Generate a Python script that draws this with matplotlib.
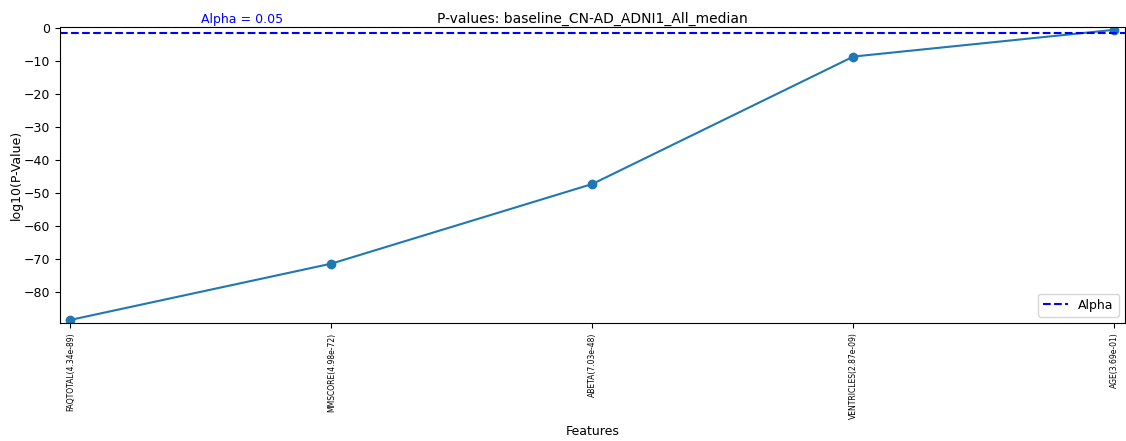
import numpy as np
import matplotlib
matplotlib.use('Agg')
import matplotlib.pyplot as plt

features = ['FAQTOTAL', 'MMSCORE', 'ABETA', 'VENTRICLES', 'AGE']
p_values = [4.34e-89, 4.98e-72, 7.03e-48, 2.87e-09, 3.69e-01]
alpha = 0.05
title = 'P-values: baseline_CN-AD_ADNI1_All_median'

log_p = np.log10(p_values)
labels = [f'{f}({p:.2e})' for f, p in zip(features, p_values)]

fig, ax = plt.subplots(figsize=(11.26, 4.41), dpi=100)
fig.subplots_adjust(left=0.0533, right=0.999, top=0.939, bottom=0.268)

ax.plot(range(len(features)), log_p, marker='o', color='#1f77b4')
ax.axhline(np.log10(alpha), color='blue', linestyle='--', label='Alpha')
ax.text(0.5, np.log10(alpha) + 2.8, f'Alpha = {alpha}', color='blue',
        fontsize=9, clip_on=False)
ax.margins(x=0.01, y=0.01)

ax.set_xticks(range(len(features)))
ax.set_xticklabels(labels, rotation=90, fontsize=5.5)
ax.tick_params(axis='y', labelsize=9)
ax.set_xlabel('Features', fontsize=9)
ax.set_ylabel('log10(P-Value)', fontsize=9, labelpad=1)
ax.set_title(title, fontsize=10, pad=3)
ax.legend(loc='lower right', fontsize=9)

plt.savefig('out.png', dpi=100)
